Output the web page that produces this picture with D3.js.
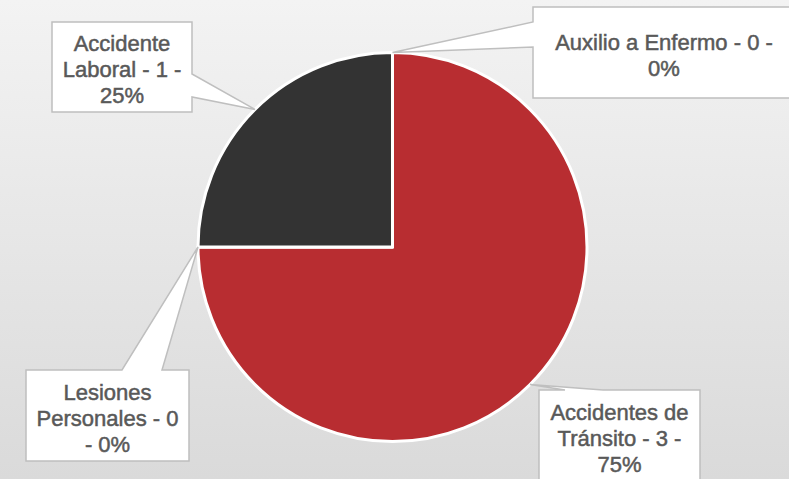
<!DOCTYPE html>
<html>
<head>
<meta charset="utf-8">
<script src="https://d3js.org/d3.v7.min.js"></script>
<style>
  html, body { margin: 0; padding: 0; overflow: hidden; }
  svg { display: block; }
</style>
</head>
<body>
<div id="container"></div>
<script>
  // data, in the order the slices run clockwise from 12 o'clock
  var categories = ["Auxilio a Enfermo", "Accidentes de Tránsito", "Lesiones Personales", "Accidente Laboral"];
  var values = [0, 3, 0, 1];
  var colors = ["#4a4a4a", "#b82d31", "#7f7f7f", "#333333"];

  var width = 789;
  var height = 479;
  var cx = 392.5, cy = 247, radius = 194.5;

  // callout boxes: x, y, w, h, side the pointer leaves from, the two pointer base points
  var boxes = [
    { x: 533, y: 7,   w: 262, h: 91, side: "left",  a: 22,  b: 47 },
    { x: 539, y: 390, w: 161, h: 91, side: "top",   a: 565, b: 603 },
    { x: 26,  y: 370, w: 163, h: 91, side: "top",   a: 122, b: 162 },
    { x: 52,  y: 22,  w: 140, h: 90, side: "right", a: 74,  b: 97 }
  ];

  var svg = d3.select("#container").append("svg")
    .attr("width", width)
    .attr("height", height);

  var grad = svg.append("defs").append("linearGradient")
    .attr("id", "bg").attr("x1", 0).attr("y1", 0).attr("x2", 0).attr("y2", 1);
  grad.append("stop").attr("offset", "0%").attr("stop-color", "#f3f3f3");
  grad.append("stop").attr("offset", "100%").attr("stop-color", "#dadada");

  svg.append("rect")
    .attr("width", width).attr("height", height)
    .attr("fill", "url(#bg)");

  var total = d3.sum(values);
  var pie = d3.pie().sort(null).value(function(d) { return d; });
  var arcs = pie(values);
  var arc = d3.arc().innerRadius(0).outerRadius(radius);

  var g = svg.append("g").attr("transform", "translate(" + cx + "," + cy + ")");
  g.selectAll("path.slice")
    .data(arcs)
    .enter()
    .append("path")
    .attr("class", "slice")
    .attr("d", arc)
    .attr("fill", function(d, i) { return colors[i]; })
    .attr("stroke", "#ffffff")
    .attr("stroke-width", 3)
    .attr("stroke-linejoin", "round");

  // point on the rim at the middle of each slice
  function tipOf(d) {
    var ang = (d.startAngle + d.endAngle) / 2;
    return [cx + radius * Math.sin(ang), cy - radius * Math.cos(ang)];
  }

  function calloutPath(bx, tip) {
    var x = bx.x, y = bx.y, r = bx.x + bx.w, btm = bx.y + bx.h;
    var p;
    if (bx.side === "top") {
      p = [[x, y], [bx.a, y], tip, [bx.b, y], [r, y], [r, btm], [x, btm]];
    } else if (bx.side === "right") {
      p = [[x, y], [r, y], [r, bx.a], tip, [r, bx.b], [r, btm], [x, btm]];
    } else {
      p = [[x, y], [r, y], [r, btm], [x, btm], [x, bx.b], tip, [x, bx.a]];
    }
    return "M" + p.map(function(q) { return q[0] + "," + q[1]; }).join("L") + "Z";
  }

  var fontSize = 22, lineH = 26;

  arcs.forEach(function(d, i) {
    var bx = boxes[i];
    var tip = tipOf(d);
    var lg = svg.append("g").attr("class", "label");

    lg.append("path")
      .attr("d", calloutPath(bx, tip))
      .attr("fill", "#ffffff")
      .attr("stroke", "#bfbfbf")
      .attr("stroke-width", 1.5)
      .attr("stroke-linejoin", "miter");

    var pct = Math.round(values[i] / total * 100);
    var words = (categories[i] + " - " + values[i] + " - " + pct + "%").split(" ");

    var txt = lg.append("text")
      .attr("font-family", "'Liberation Sans', Arial, sans-serif")
      .attr("font-size", fontSize)
      .attr("fill", "#595959")
      .attr("stroke", "#595959")
      .attr("stroke-width", 0.5)
      .attr("text-anchor", "middle");

    // greedy wrap to the box width
    var maxW = bx.w - 16;
    var lines = [];
    var cur = "";
    var probe = txt.append("tspan");
    words.forEach(function(w) {
      var test = cur ? cur + " " + w : w;
      probe.text(test);
      if (cur && probe.node().getComputedTextLength() > maxW) {
        lines.push(cur);
        cur = w;
      } else {
        cur = test;
      }
    });
    lines.push(cur);
    probe.remove();

    var mid = bx.y + bx.h / 2 + 2.5;
    lines.forEach(function(l, k) {
      txt.append("tspan")
        .attr("x", bx.x + bx.w / 2)
        .attr("y", mid + (k - (lines.length - 1) / 2) * lineH)
        .attr("dy", "0.35em")
        .text(l);
    });
  });
</script>
</body>
</html>
